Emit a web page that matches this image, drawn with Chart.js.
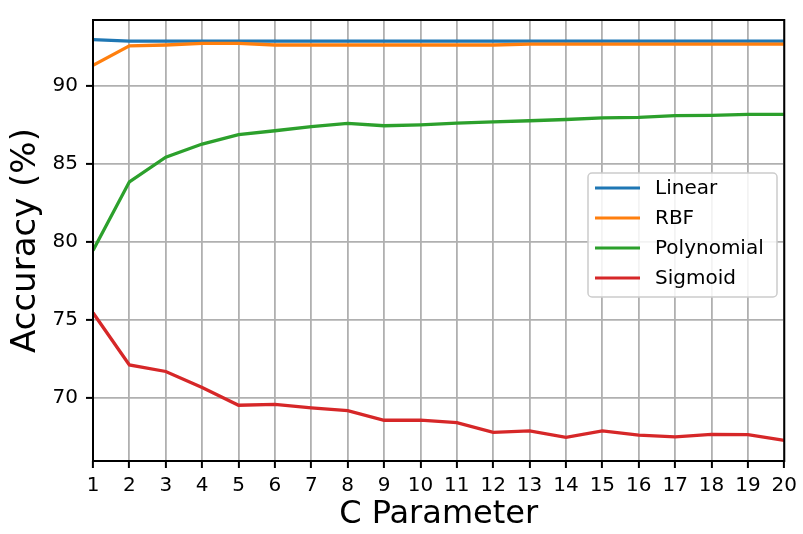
<!DOCTYPE html>
<html>
<head>
<meta charset="utf-8">
<script src="https://cdn.jsdelivr.net/npm/chart.js@4"></script>
<style>
  html, body { margin: 0; padding: 0; background: #fff; }
  #wrap { width: 803px; height: 534px; }
</style>
</head>
<body>
<div id="wrap"><canvas id="accChart" width="803" height="534"></canvas></div>
<script>
// values
const cParams = [1, 2, 3, 4, 5, 6, 7, 8, 9, 10, 11, 12, 13, 14, 15, 16, 17, 18, 19, 20];
const linearAcc = [92.95, 92.85, 92.85, 92.85, 92.85, 92.85, 92.85, 92.85, 92.85, 92.85,
                   92.85, 92.85, 92.85, 92.85, 92.85, 92.85, 92.85, 92.85, 92.85, 92.85];
const rbfAcc = [91.3, 92.55, 92.6, 92.7, 92.7, 92.6, 92.6, 92.6, 92.6, 92.6,
                92.6, 92.6, 92.65, 92.65, 92.65, 92.65, 92.65, 92.65, 92.65, 92.65];
const polyAcc = [79.45, 83.84, 85.42, 86.26, 86.86, 87.11, 87.37, 87.58, 87.43, 87.49,
                 87.6, 87.68, 87.75, 87.83, 87.94, 87.97, 88.08, 88.1, 88.16, 88.16];
const sigmoidAcc = [75.46, 72.12, 71.7, 70.67, 69.54, 69.59, 69.37, 69.2, 68.58, 68.58,
                    68.43, 67.8, 67.9, 67.49, 67.9, 67.63, 67.52, 67.68, 67.66, 67.29];
const yTicks = [70, 75, 80, 85, 90];
const seriesNames = ['Linear', 'RBF', 'Polynomial', 'Sigmoid'];
const seriesColors = ['#1f77b4', '#ff7f0e', '#2ca02c', '#d62728'];

const FONT = "'DejaVu Sans', sans-serif";
Chart.defaults.color = '#000';
Chart.defaults.font.family = FONT;

function toPoints(vals) {
  return vals.map((v, i) => ({ x: cParams[i], y: v }));
}

// black frame round the plot area
const frame = {
  id: 'frame',
  afterDatasetsDraw(chart) {
    const a = chart.chartArea, ctx = chart.ctx;
    ctx.save();
    ctx.strokeStyle = '#000';
    ctx.lineWidth = 2;
    ctx.strokeRect(a.left, a.top, a.right - a.left, a.bottom - a.top);
    ctx.restore();
  }
};

// legend box inside the plot, like matplotlib's
const innerLegend = {
  id: 'innerLegend',
  afterDraw(chart) {
    const ctx = chart.ctx;
    const x0 = 588, y0 = 173, w = 189, h = 124;
    ctx.save();
    ctx.globalAlpha = 0.85;
    ctx.fillStyle = '#fff';
    ctx.beginPath();
    ctx.roundRect(x0, y0, w, h, 4);
    ctx.fill();
    ctx.globalAlpha = 1;
    ctx.strokeStyle = '#cccccc';
    ctx.lineWidth = 1.5;
    ctx.stroke();
    ctx.font = '20px ' + FONT;
    ctx.textBaseline = 'middle';
    ctx.fillStyle = '#000';
    seriesNames.forEach((name, i) => {
      const y = 188 + i * 30;
      ctx.strokeStyle = seriesColors[i];
      ctx.lineWidth = 3;
      ctx.beginPath();
      ctx.moveTo(595, y);
      ctx.lineTo(640, y);
      ctx.stroke();
      ctx.fillText(name, 655, y + 1);
    });
    ctx.restore();
  }
};

const ctx = document.getElementById('accChart').getContext('2d');
new Chart(ctx, {
  type: 'line',
  data: {
    datasets: [
      { label: seriesNames[0], data: toPoints(linearAcc), borderColor: seriesColors[0], order: 4 },
      { label: seriesNames[1], data: toPoints(rbfAcc), borderColor: seriesColors[1], order: 3 },
      { label: seriesNames[2], data: toPoints(polyAcc), borderColor: seriesColors[2], order: 2 },
      { label: seriesNames[3], data: toPoints(sigmoidAcc), borderColor: seriesColors[3], order: 1 }
    ]
  },
  options: {
    responsive: false,
    animation: false,
    events: [],
    layout: { padding: { left: 0, right: 17, top: 11, bottom: 0 } },
    elements: {
      line: { borderWidth: 3.3, tension: 0, fill: false },
      point: { radius: 0 }
    },
    plugins: {
      legend: { display: false },
      tooltip: { enabled: false }
    },
    scales: {
      x: {
        type: 'linear',
        min: 1,
        max: 20,
        afterBuildTicks(scale) {
          scale.ticks = cParams.map(v => ({ value: v }));
        },
        afterFit(scale) { scale.height = 73; },
        grid: { color: '#b0b0b0', lineWidth: 1.8, tickColor: '#000', tickLength: 7, tickWidth: 2 },
        border: { display: false },
        ticks: { font: { size: 20 }, padding: 6, maxRotation: 0, autoSkip: false },
        title: { display: true, text: 'C Parameter', font: { size: 32 }, padding: { top: 0, bottom: 0 } }
      },
      y: {
        min: 65.97,
        max: 94.2,
        afterBuildTicks(scale) {
          scale.ticks = yTicks.map(v => ({ value: v }));
        },
        afterFit(scale) { scale.width = 93; },
        grid: { color: '#b0b0b0', lineWidth: 1.8, tickColor: '#000', tickLength: 7, tickWidth: 2 },
        border: { display: false },
        ticks: { font: { size: 20 }, padding: 8 },
        title: { display: true, text: 'Accuracy (%)', font: { size: 34 }, padding: { top: 6, bottom: 0 } }
      }
    }
  },
  plugins: [frame, innerLegend]
});
</script>
</body>
</html>
